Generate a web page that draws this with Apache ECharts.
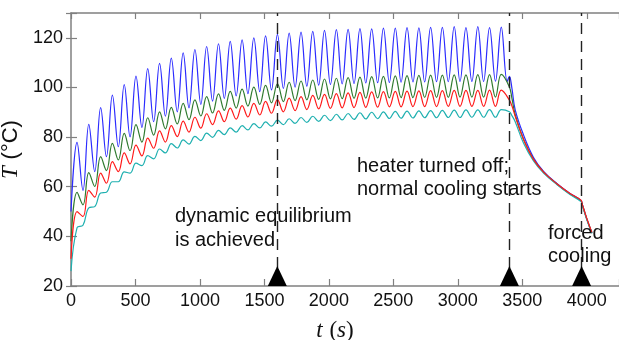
<!DOCTYPE html>
<html>
<head>
<meta charset="utf-8">
<script src="https://cdn.jsdelivr.net/npm/echarts@6/dist/echarts.min.js"></script>
<style>
html, body { margin: 0; padding: 0; background: #fff; }
#chart { width: 619px; height: 340px; }
</style>
</head>
<body>
<div id="chart"></div>
<script>
// times (s) of the peaks and troughs of the heating cycles
var peakTimes = [47, 138, 230, 321, 413, 504, 595, 687, 778, 870, 961, 1052, 1144, 1235, 1327, 1418, 1509, 1601, 1692,
  1784, 1875, 1966, 2058, 2149, 2241, 2332, 2423, 2515, 2606, 2698, 2789, 2880, 2972, 3063, 3155, 3246, 3337];
var troughTimes = [93, 184, 275, 367, 458, 550, 641, 732, 824, 915, 1007, 1098, 1189, 1281, 1372, 1464, 1555, 1647, 1738,
  1829, 1921, 2012, 2103, 2195, 2286, 2378, 2469, 2560, 2652, 2743, 2835, 2926, 3017, 3109, 3200, 3292, 3383];
// cooling phase (heater off at 3400 s, forced cooling from ~3960 s)
var coolTimes = [3400, 3420, 3445, 3510, 3587, 3665, 3770, 3870, 3955, 3965, 4001, 4040];

// temperature at t = 0 : blue, green, red, cyan
var startTemps = [50, 38, 31, 26];

var bluePeaks = [77.9, 85.1, 91.9, 96.9, 101.1, 104.6, 107.6, 109.7, 111.8, 113.9, 115.3, 116.5, 117.6, 118.6, 119.2, 120.0,
  120.8, 121.4, 121.9, 122.3, 122.6, 123.0, 123.3, 123.4, 123.7, 123.6, 123.9, 123.9, 124.1, 124.0, 124.2, 124.2, 124.5,
  124.1, 124.5, 124.1, 124.3];
var blueTroughs = [58.5, 66.1, 72.1, 76.1, 80.1, 83.9, 86.2, 88.4, 90.2, 91.8, 93.2, 94.5, 95.6, 96.6, 97.5, 98.3, 99.0,
  99.6, 100.1, 100.5, 100.9, 101.2, 101.4, 101.6, 101.8, 101.9, 102.0, 102.1, 102.2, 102.2, 102.3, 102.3, 102.4, 102.4,
  102.4, 102.5, 102.4];
var blueCool = [104.5, 99.5, 91.0, 80.8, 71.8, 66.2, 61.2, 57.3, 54.5, 53.0, 46.9, 41.4];

var greenPeaks = [57.7, 65.7, 72.1, 77.5, 81.5, 85.0, 87.8, 90.2, 92.0, 93.6, 95.0, 96.3, 97.4, 98.4, 99.3, 100.1, 100.8,
  101.5, 102.1, 102.6, 103.0, 103.4, 103.7, 104.0, 104.2, 104.4, 104.5, 104.7, 104.8, 104.9, 105.0, 105.0, 105.1, 105.1,
  105.2, 105.2, 105.3];
var greenTroughs = [52.7, 60.1, 66.5, 70.8, 74.5, 78.0, 80.8, 83.3, 85.3, 87.0, 88.5, 89.7, 90.8, 91.7, 92.5, 93.2, 93.8,
  94.3, 94.7, 95.0, 95.2, 95.4, 95.5, 95.6, 95.7, 95.8, 95.8, 95.9, 95.9, 96.0, 96.0, 96.0, 96.1, 96.1, 96.1, 96.1];
var greenCool = [100.2, 95.5, 89.0, 79.0, 71.0, 65.9, 61.0, 57.1, 54.3, 52.8, 46.9, 41.4];

var redPeaks = [50.0, 58.5, 65.5, 70.1, 73.6, 76.8, 79.6, 82.5, 84.6, 86.4, 88.0, 89.4, 90.6, 91.7, 92.7, 93.6, 94.4, 95.1,
  95.7, 96.3, 96.8, 97.2, 97.5, 97.8, 98.0, 98.2, 98.3, 98.4, 98.5, 98.6, 98.7, 98.7, 98.8, 98.8, 98.8, 98.9, 98.9];
var redTroughs = [48.0, 55.8, 61.4, 66.1, 69.2, 72.4, 75.5, 78.0, 80.2, 82.0, 83.6, 85.0, 86.2, 87.2, 88.1, 88.9, 89.6,
  90.2, 90.7, 91.1, 91.4, 91.6, 91.8, 91.9, 92.0, 92.1, 92.2, 92.2, 92.3, 92.3, 92.3, 92.4, 92.4, 92.4, 92.4, 92.4];
var redCool = [94.9, 92.5, 88.4, 79.0, 71.0, 65.9, 61.1, 57.3, 54.6, 53.0, 47.1, 41.6];

var cyanPeaks = [43.5, 51.5, 57.5, 62.0, 66.0, 69.5, 72.5, 75.2, 77.4, 78.9, 80.3, 81.6, 82.7, 83.7, 84.6, 85.4, 86.1,
  86.8, 87.4, 87.9, 88.4, 88.8, 89.2, 89.5, 89.8, 90.0, 90.2, 90.4, 90.5, 90.6, 90.7, 90.8, 90.9, 91.0, 91.0, 91.1, 91.1];
var cyanTroughs = [44.5, 52.0, 57.8, 62.0, 65.5, 68.5, 71.2, 73.6, 75.6, 77.2, 78.6, 79.9, 81.0, 82.0, 82.9, 83.7, 84.4,
  85.0, 85.5, 85.9, 86.3, 86.6, 86.9, 87.1, 87.3, 87.4, 87.5, 87.6, 87.7, 87.8, 87.8, 87.9, 87.9, 88.0, 88.0, 88.0];
var cyanCool = [90.2, 88.6, 86.2, 77.5, 70.4, 65.5, 60.8, 56.9, 54.0, 52.5, 46.6, 41.2];

// events marked with a dashed line and a triangle
var markerTimes = [1600, 3400, 3960];

function buildCurve(start, peaks, troughs, cool) {
  var pts = [[0, start]];
  for (var i = 0; i < peaks.length; i++) {
    pts.push([peakTimes[i], peaks[i]]);
    if (i < troughs.length) pts.push([troughTimes[i], troughs[i]]);
  }
  for (var j = 0; j < coolTimes.length; j++) pts.push([coolTimes[j], cool[j]]);
  return pts;
}

function curve(name, color, data) {
  return {
    name: name,
    type: 'line',
    data: data,
    showSymbol: false,
    smooth: 0.4,
    lineStyle: { color: color, width: 1.2 },
    z: 2
  };
}

var sans = '"Liberation Sans", Arial, sans-serif';
var serif = '"Liberation Serif", "DejaVu Serif", serif';
var axisGrey = '#808080';

var myChart = echarts.init(document.getElementById('chart'));

var option = {
  animation: false,
  backgroundColor: '#fff',
  grid: { left: 71, right: 0, top: 13, bottom: 54, containLabel: false, outerBoundsMode: 'none' },
  xAxis: [
    {
      type: 'value', min: 0, max: 4250, interval: 500,
      name: '{i|t}  {n|(}{i|s}{n|)}',
      nameLocation: 'middle', nameGap: 33,
      nameTextStyle: {
        padding: [0, 20, 0, 0],
        rich: {
          i: { fontFamily: serif, fontStyle: 'italic', fontSize: 23, color: '#111' },
          n: { fontFamily: serif, fontSize: 23, color: '#111' }
        }
      },
      axisLine: { lineStyle: { color: axisGrey, width: 1.5 } },
      axisTick: { inside: true, length: 7, lineStyle: { color: axisGrey, width: 1.2 } },
      axisLabel: {
        margin: 6, fontSize: 18, fontFamily: sans, color: '#111',
        formatter: function (v) { return (v % 500 === 0 && v <= 4000) ? String(v) : ''; }
      },
      splitLine: { show: false }
    },
    {
      type: 'value', position: 'top', min: 0, max: 4250, interval: 500,
      axisLine: { show: true, lineStyle: { color: axisGrey, width: 1.5 } },
      axisTick: { inside: true, length: 6, lineStyle: { color: axisGrey, width: 1.2 } },
      axisLabel: { show: false },
      splitLine: { show: false }
    }
  ],
  yAxis: [
    {
      type: 'value', min: 20, max: 130, interval: 20,
      name: '{i|T}  {n|(°C)}',
      nameLocation: 'middle', nameRotate: 90, nameGap: 28,
      nameTextStyle: {
        rich: {
          i: { fontFamily: serif, fontStyle: 'italic', fontSize: 23, color: '#111' },
          n: { fontFamily: sans, fontSize: 22, color: '#111' }
        }
      },
      axisLine: { show: true, lineStyle: { color: axisGrey, width: 1.5 } },
      axisTick: { show: true, inside: true, length: 6, lineStyle: { color: axisGrey, width: 1.2 } },
      axisLabel: {
        margin: 8, fontSize: 18, fontFamily: sans, color: '#111',
        formatter: function (v) { return v % 20 === 0 ? String(v) : ''; }
      },
      splitLine: { show: false }
    },
    {
      type: 'value', position: 'right', min: 20, max: 130, interval: 20,
      axisLine: { show: false },
      axisTick: { show: true, inside: true, length: 5, lineStyle: { color: axisGrey, width: 1.2 } },
      axisLabel: { show: false },
      splitLine: { show: false }
    }
  ],
  series: [
    curve('blue', '#2b2bff', buildCurve(startTemps[0], bluePeaks, blueTroughs, blueCool)),
    curve('green', '#2f7a2f', buildCurve(startTemps[1], greenPeaks, greenTroughs, greenCool)),
    curve('cyan', '#1fb0b0', buildCurve(startTemps[3], cyanPeaks, cyanTroughs, cyanCool)),
    curve('red', '#ff1a1a', buildCurve(startTemps[2], redPeaks, redTroughs, redCool)),
    {
      name: 'event lines',
      type: 'line',
      data: [],
      z: 3,
      markLine: {
        silent: true,
        symbol: 'none',
        label: { show: false },
        lineStyle: { color: '#222', width: 1.4, type: [11, 7] },
        data: markerTimes.map(function (t) { return { xAxis: t }; })
      }
    },
    {
      name: 'events',
      type: 'scatter',
      data: markerTimes.map(function (t) { return [t, 20]; }),
      symbol: 'triangle',
      symbolSize: [19, 20],
      symbolOffset: [0, -10],
      itemStyle: { color: '#000', opacity: 1 },
      clip: false,
      z: 6
    }
  ],
  graphic: [
    {
      type: 'text', left: 175, top: 205, z: 10,
      style: { text: 'dynamic equilibrium\nis achieved', font: '20px ' + sans, fill: '#111', lineHeight: 23.5 }
    },
    {
      type: 'text', left: 357, top: 154.5, z: 10,
      style: { text: 'heater turned off;\nnormal cooling starts', font: '20px ' + sans, fill: '#111', lineHeight: 23.5 }
    },
    {
      type: 'text', left: 548, top: 221.5, z: 10,
      style: { text: 'forced\ncooling', font: '20px ' + sans, fill: '#111', lineHeight: 23.5 }
    }
  ]
};

myChart.setOption(option);
</script>
</body>
</html>
